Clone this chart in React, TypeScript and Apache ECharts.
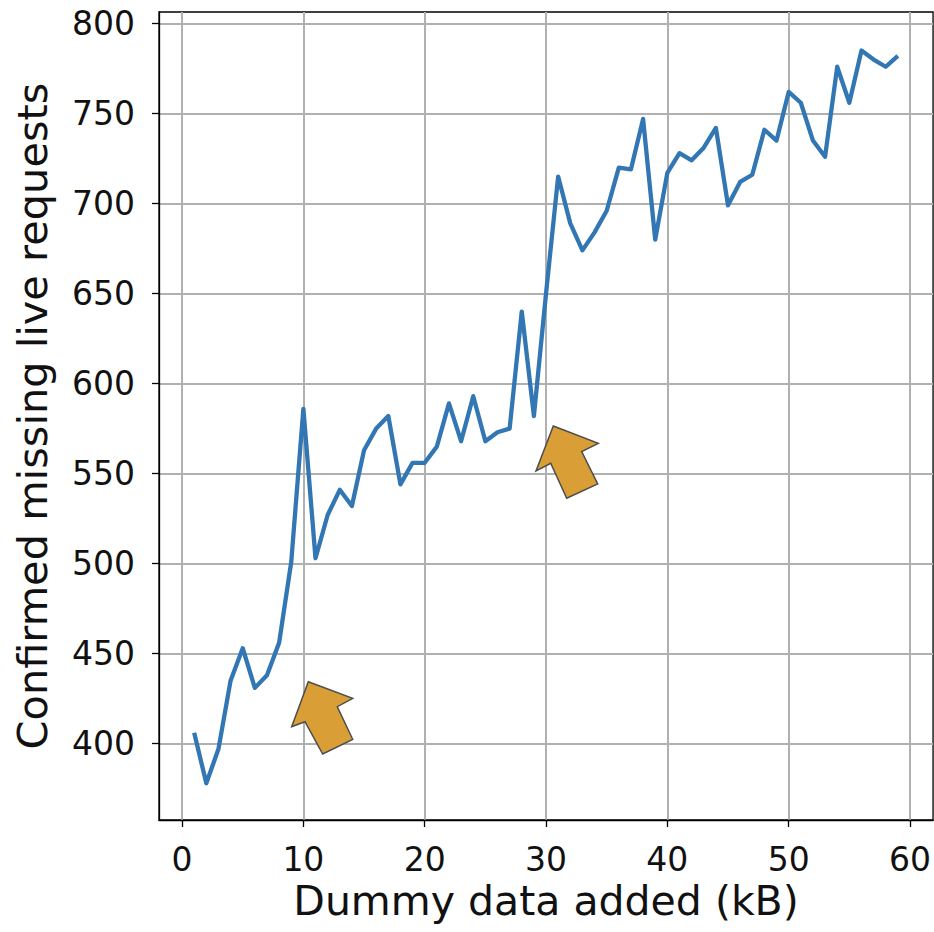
import React, { useEffect, useRef } from "react";
import * as echarts from "echarts";

const xValues = [1,2,3,4,5,6,7,8,9,10,11,12,13,14,15,16,17,18,19,20,21,22,23,24,25,26,27,28,29,30,31,32,33,34,35,36,37,38,39,40,41,42,43,44,45,46,47,48,49,50,51,52,53,54,55,56,57,58,59];
const yValues = [406,378,397,435,453,431,438,456,501,586,503,527,541,532,563,575,582,544,556,556,565,589,568,593,568,573,575,640,582,650,715,689,674,684,696,720,719,747,680,717,728,724,731,742,699,712,716,741,735,762,756,735,726,776,756,785,780,776,782];
const xTicks = [0,10,20,30,40,50,60];
const yTicks = [400,450,500,550,600,650,700,750,800];
const xLabel = "Dummy data added (kB)";
const yLabel = "Confirmed missing live requests";

const FONT = "DejaVu Sans";

export default function App() {
  const ref = useRef<HTMLDivElement>(null);
  useEffect(() => {
    if (!ref.current) return;
    const chart = echarts.init(ref.current, null, { renderer: "svg" });
    const arrowStyle = { fill: "#d99e36", stroke: "#4d4d4d", lineWidth: 1.5 };
    chart.setOption({
      animation: false,
      backgroundColor: "#ffffff",
      grid: {
        left: 159, top: 12, right: 0, bottom: 112,
        show: true, borderColor: "#000", borderWidth: 1.3, backgroundColor: "transparent",
      },
      xAxis: {
        type: "value",
        min: -1.9, max: 61.9,
        name: xLabel,
        nameLocation: "middle",
        nameGap: 60,
        nameTextStyle: { fontFamily: FONT, fontSize: 41, color: "#111" },
        axisLine: { show: true, onZero: false, lineStyle: { color: "#000", width: 1.3 } },
        axisTick: { show: true, length: 7, customValues: xTicks, lineStyle: { color: "#000", width: 1.3 } },
        axisLabel: { customValues: xTicks, margin: 23, fontFamily: FONT, fontSize: 33, color: "#111" },
        splitLine: { show: true, lineStyle: { color: "#b0b0b0", width: 2 } },
      },
      yAxis: {
        type: "value",
        min: 357.6, max: 806.4,
        name: yLabel,
        nameLocation: "middle",
        nameGap: 106,
        nameTextStyle: { fontFamily: FONT, fontSize: 41.5, color: "#111" },
        axisLine: { show: true, onZero: false, lineStyle: { color: "#000", width: 1.3 } },
        axisTick: { show: true, length: 7, customValues: yTicks, lineStyle: { color: "#000", width: 1.3 } },
        axisLabel: { customValues: yTicks, margin: 24, fontFamily: FONT, fontSize: 33, color: "#111" },
        splitLine: { show: true, lineStyle: { color: "#b0b0b0", width: 2 } },
      },
      series: [
        {
          type: "line",
          data: xValues.map((x, i) => [x, yValues[i]]),
          showSymbol: false,
          symbol: "none",
          lineStyle: { color: "#3276b4", width: 4.3, join: "round" },
        },
      ],
      graphic: [
        {
          type: "polygon",
          z: 100,
          shape: { points: [[308.3,681.7],[352.7,698.3],[337.3,706.7],[352.7,739.3],[322.7,754],[305,721.7],[291.7,726.7]] },
          style: arrowStyle,
        },
        {
          type: "polygon",
          z: 100,
          shape: { points: [[553.3,426],[598.3,443.3],[581.7,451.7],[597.7,484],[566.7,498.3],[550.7,463.3],[536,471]] },
          style: arrowStyle,
        },
      ],
    });
    return () => chart.dispose();
  }, []);
  return <div ref={ref} style={{ position: "fixed", left: 0, top: 0, width: 934, height: 932 }} />;
}
